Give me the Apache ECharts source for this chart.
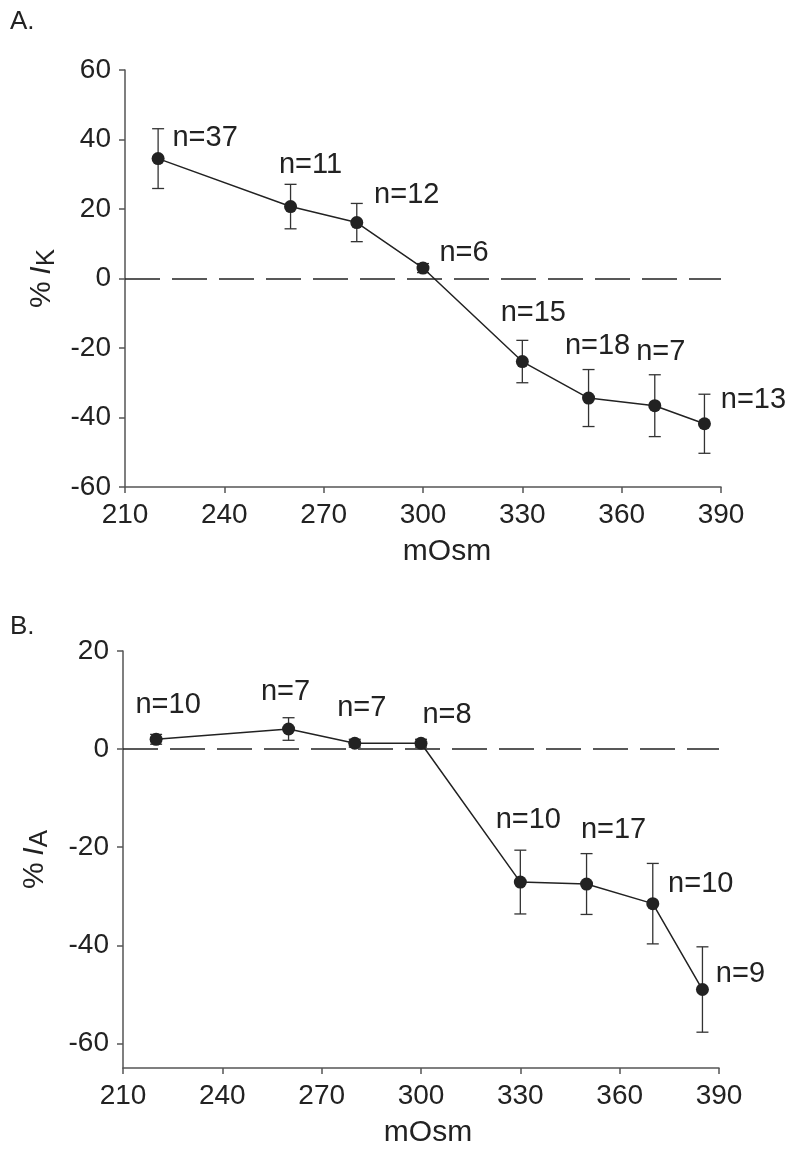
<!DOCTYPE html>
<html>
<head>
<meta charset="utf-8">
<script src="https://cdn.jsdelivr.net/npm/echarts@6/dist/echarts.min.js"></script>
<style>
  html, body { margin: 0; padding: 0; background: #fff; }
  #chart { width: 800px; height: 1156px; }
</style>
</head>
<body>
<div id="chart"></div>
<script>
// osmolarity (mOsm) of each test solution
const osmA = [220, 260, 280, 300, 330, 350, 370, 385];
const osmB = [220, 260, 280, 300, 330, 350, 370, 385];

// panel A: % change of I_K, with error bars
const ikMean = [34.5, 20.7, 16.1, 3.0, -23.9, -34.4, -36.6, -41.8];
const ikErr = [8.6, 6.4, 5.5, 1.3, 6.1, 8.2, 8.9, 8.5];
const ikN = [37, 11, 12, 6, 15, 18, 7, 13];

// panel B: % change of I_A
const iaMean = [2.0, 4.1, 1.2, 1.2, -27.1, -27.5, -31.5, -49.0];
const iaErr = [1.0, 2.3, 0.8, 0.8, 6.5, 6.2, 8.2, 8.7];
const iaN = [10, 7, 7, 8, 10, 17, 10, 9];

const xTicks = [210, 240, 270, 300, 330, 360, 390];
const yTicksB = [-60, -40, -20, 0, 20];

// where each "n=" label sits relative to its point (px)
const offA = [[47, -21], [20, -42], [50, -28], [41, -15], [11, -49], [9, -52], [6, -54], [49, -24]];
const offB = [[12, -34], [-3, -37], [7, -35], [26, -28], [8, -62], [27, -54], [48, -20], [38, -16]];

const FONT = "'Liberation Sans', Arial, Helvetica, sans-serif";
const INK = "#222";
const AXIS = "#555";

const chart = echarts.init(document.getElementById("chart"), null, { renderer: "canvas" });

function xAxisFor(gridIndex, nameShift) {
  return {
    type: "value",
    gridIndex,
    min: xTicks[0],
    max: xTicks[xTicks.length - 1],
    interval: 30,
    name: "mOsm",
    nameLocation: "middle",
    nameGap: 50,
    nameTextStyle: { fontFamily: FONT, fontSize: 30, color: INK, padding: [0, 0, 0, nameShift] },
    axisLine: { show: true, onZero: false, lineStyle: { color: AXIS, width: 1.5 } },
    axisTick: { show: true, inside: false, length: 6, lineStyle: { color: AXIS, width: 1.5 } },
    axisLabel: { fontFamily: FONT, fontSize: 28, color: INK, margin: 14 },
    splitLine: { show: false },
  };
}

function yAxisFor(gridIndex, min, max, sub, gap) {
  const axis = {
    type: "value",
    gridIndex,
    min,
    max,
    name: "{p|%}  {i|I}{s|" + sub + "}",
    nameLocation: "middle",
    nameRotate: 90,
    nameGap: gap,
    nameTextStyle: {
      fontFamily: FONT,
      color: INK,
      rich: {
        p: { fontFamily: FONT, fontSize: 30, color: INK },
        i: { fontFamily: FONT, fontSize: 30, fontStyle: "italic", color: INK },
        s: { fontFamily: FONT, fontSize: 26, color: INK, padding: [10, 0, 0, 0] },
      },
    },
    axisLine: { show: true, onZero: false, lineStyle: { color: AXIS, width: 1.5 } },
    axisTick: { show: true, inside: false, length: 6, lineStyle: { color: AXIS, width: 1.5 } },
    axisLabel: { fontFamily: FONT, fontSize: 28, color: INK, margin: 14 },
    splitLine: { show: false },
  };
  return axis;
}

function errorSeries(idx, xs, means, errs) {
  return {
    type: "custom",
    xAxisIndex: idx,
    yAxisIndex: idx,
    z: 1,
    silent: true,
    encode: { x: 0, y: 1 },
    data: xs.map((x, i) => [x, means[i], errs[i]]),
    renderItem: function (params, api) {
      const x = api.value(0);
      const m = api.value(1);
      const e = api.value(2);
      const hi = api.coord([x, m + e]);
      const lo = api.coord([x, m - e]);
      const cap = 6;
      const style = { stroke: "#333", lineWidth: 1.3 };
      return {
        type: "group",
        children: [
          { type: "line", shape: { x1: hi[0], y1: hi[1], x2: lo[0], y2: lo[1] }, style },
          { type: "line", shape: { x1: hi[0] - cap, y1: hi[1], x2: hi[0] + cap, y2: hi[1] }, style },
          { type: "line", shape: { x1: lo[0] - cap, y1: lo[1], x2: lo[0] + cap, y2: lo[1] }, style },
        ],
      };
    },
  };
}

function meanSeries(idx, xs, means, ns, offs) {
  return {
    type: "line",
    xAxisIndex: idx,
    yAxisIndex: idx,
    z: 3,
    symbol: "circle",
    symbolSize: 13,
    itemStyle: { color: INK },
    lineStyle: { color: INK, width: 1.5 },
    animation: false,
    data: xs.map((x, i) => ({
      value: [x, means[i]],
      label: {
        show: true,
        position: "inside",
        offset: offs[i],
        formatter: "n=" + ns[i],
        fontFamily: FONT,
        fontSize: 29,
        color: INK,
        align: "center",
        verticalAlign: "middle",
      },
    })),
    markLine: {
      silent: true,
      symbol: "none",
      label: { show: false },
      lineStyle: { color: INK, type: [35, 12], width: 1.5 },
      data: [{ yAxis: 0 }],
    },
  };
}

chart.setOption({
  animation: false,
  backgroundColor: "#fff",
  grid: [
    { left: 125, right: 79, top: 70, height: 417, outerBoundsMode: "none" },
    { left: 123, right: 81, top: 651, height: 417, outerBoundsMode: "none" },
  ],
  xAxis: [xAxisFor(0, 48), xAxisFor(1, 14)],
  yAxis: [
    Object.assign(yAxisFor(0, -60, 60, "K", 58), { interval: 20 }),
    Object.assign(yAxisFor(1, -65, 20, "A", 70), {
      axisTick: { show: true, length: 6, customValues: yTicksB, lineStyle: { color: AXIS, width: 1.5 } },
      axisLabel: { fontFamily: FONT, fontSize: 28, color: INK, margin: 14, customValues: yTicksB },
    }),
  ],
  graphic: [
    { type: "text", left: 10, top: 9, style: { text: "A.", fontFamily: FONT, fontSize: 26, fill: INK } },
    { type: "text", left: 10, top: 614, style: { text: "B.", fontFamily: FONT, fontSize: 26, fill: INK } },
  ],
  series: [
    errorSeries(0, osmA, ikMean, ikErr),
    meanSeries(0, osmA, ikMean, ikN, offA),
    errorSeries(1, osmB, iaMean, iaErr),
    meanSeries(1, osmB, iaMean, iaN, offB),
  ],
});
</script>
</body>
</html>
